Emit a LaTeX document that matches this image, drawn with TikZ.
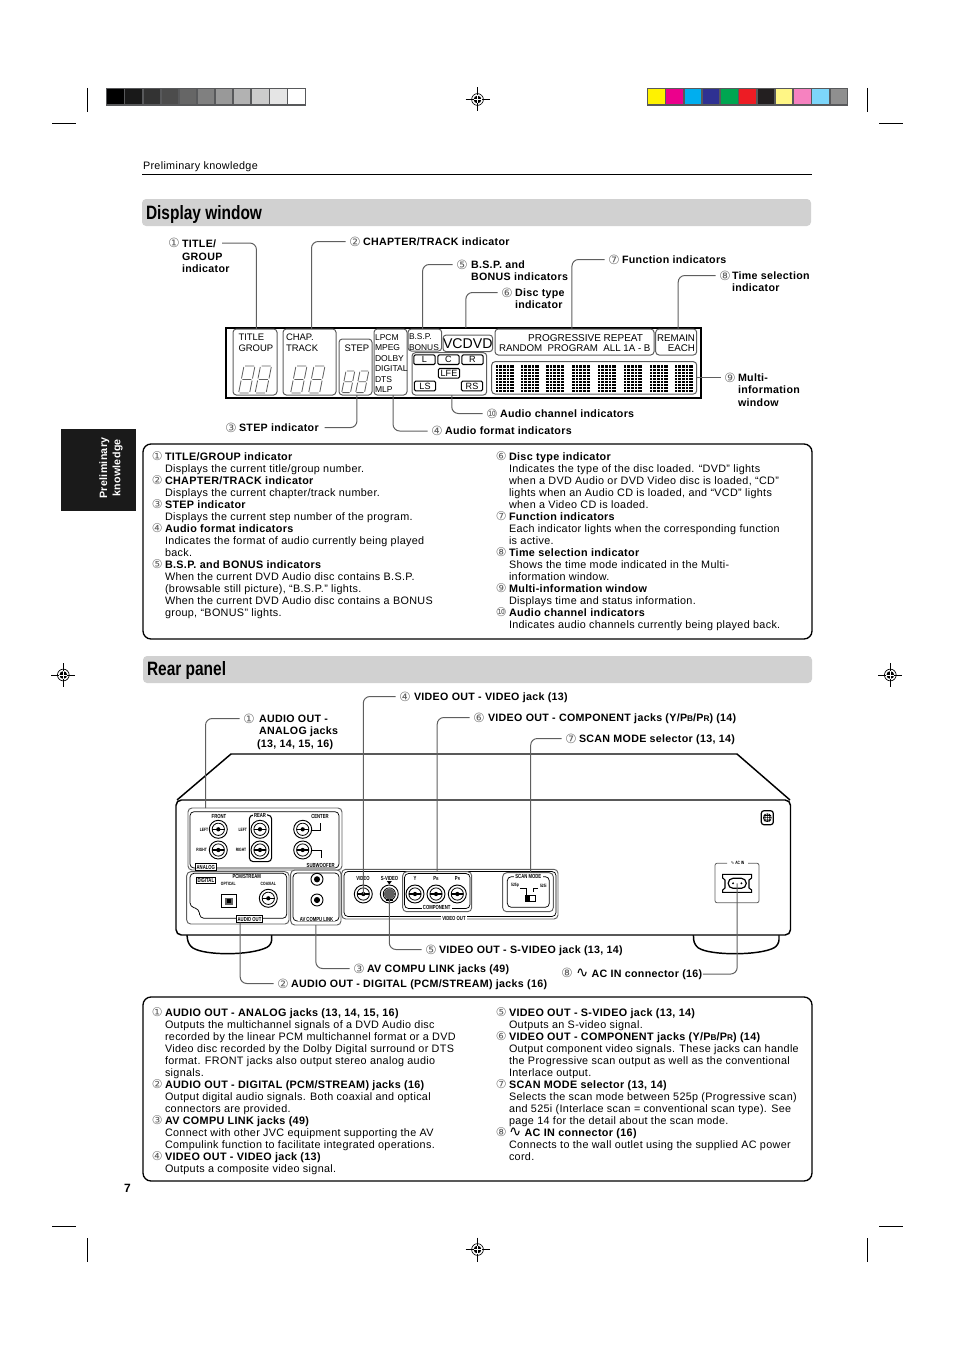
\documentclass[tikz,border=0pt]{standalone}
\usepackage{fontspec}
\setmainfont[LetterSpace=3]{Liberation Sans}
\newfontfamily\lcdfont{Liberation Sans}
\newfontfamily\symfont{DejaVu Sans}
\newfontfamily\headfont[FakeStretch=0.8]{Liberation Sans}
\newfontfamily\tinyfont[FakeStretch=0.72]{Liberation Sans}
\usetikzlibrary{arrows.meta, positioning, fit, calc}
\definecolor{leadgray}{RGB}{95,95,95}
\definecolor{bandgray}{RGB}{209,209,209}
\definecolor{lcdgray}{RGB}{95,95,95}
\definecolor{framegray}{RGB}{88,89,91}
\definecolor{tabblack}{RGB}{26,26,26}
\newcommand{\paneltitle}[2]{\makebox[0pt][r]{\symfont\fontsize{9}{9}\selectfont\color{leadgray}#1\hspace{1.8pt}}\textbf{#2}\\}
\newcommand{\lowcap}[1]{{\fontsize{6.2}{7}\selectfont #1}}
\newcommand{\tinysub}[1]{{\fontsize{3.2}{3}\selectfont #1}}
\newcommand{\sinewave}{{\symfont\mdseries\fontsize{11}{9}\selectfont\char"223F}}
\newcommand{\lcddigit}[3]{%
  \begin{scope}[shift={(#1,#2)},xslant=0.2,yscale=#3,xscale=#3]
    \draw[segment] (1,0)--(10,0) (11,1)--(11,12.5) (1,13.5)--(10,13.5)
      (11,14.5)--(11,26) (1,27)--(10,27) (0,14.5)--(0,26) (0,1)--(0,12.5);
  \end{scope}}

\begin{document}
\begin{tikzpicture}[
    x=0.75pt, y=-0.75pt,
    every node/.style={inner sep=0pt, outer sep=0pt},
    cropline/.style={black, line width=0.8pt},
    band/.style={fill=bandgray, rounded corners=3pt},
    bandtitle/.style={anchor=west, font=\headfont\bfseries\fontsize{14.5}{16}\selectfont},
    panel/.style={draw=black, line width=1pt, rounded corners=6pt},
    paneltext/.style={anchor=north west, align=left, font=\fontsize{8.1}{9}\selectfont},
    callout/.style={anchor=north west, align=left, yshift=-0.5pt, font=\bfseries\fontsize{8}{9.4}\selectfont},
    num/.style={font=\symfont\fontsize{9.5}{9}\selectfont, text=leadgray, inner sep=2.8pt},
    leader/.style={draw=leadgray, line width=0.75pt, rounded corners=5pt},
    lcdbox/.style={draw=lcdgray, line width=0.75pt, rounded corners=2.5pt, inner sep=0pt},
    lcdtext/.style={anchor=west, font=\lcdfont\fontsize{7.3}{8}\selectfont},
    chanbox/.style={draw=black, line width=0.8pt, rounded corners=1pt, minimum height=7.2pt,
                    minimum width=16pt, font=\lcdfont\fontsize{6.8}{8}\selectfont},
    segment/.style={draw=lcdgray, line width=0.6pt},
    chassis/.style={draw=black, line width=1.1pt, rounded corners=4pt},
    grayframe/.style={draw=lcdgray, line width=0.7pt, rounded corners=3pt, inner sep=0pt},
    blackframe/.style={draw=black, line width=0.55pt, rounded corners=3pt, inner sep=0pt},
    jack/.style={circle, draw=black, line width=0.7pt, minimum size=13.5pt},
    tinytext/.style={font=\tinyfont\bfseries\fontsize{4.4}{5}\selectfont},
    tinier/.style={font=\tinyfont\bfseries\fontsize{3.5}{5}\selectfont},
    tagbox/.style={draw=black, line width=0.55pt, fill=white, inner sep=0.9pt,
                   font=\tinyfont\bfseries\fontsize{4.4}{5}\selectfont},
  ]
  \useasboundingbox (0,0) rectangle (954,1352);

  % Print marks
  \draw[cropline] (87.3,88)--(87.3,112) (867.3,88)--(867.3,112)
    (87.3,1238)--(87.3,1262) (867.3,1238)--(867.3,1262)
    (52,123.3)--(76,123.3) (879,123.3)--(903,123.3)
    (52,1226.5)--(76,1226.5) (879,1226.5)--(903,1226.5);
  \fill[framegray] (106,88) rectangle (306,105.7);
  \foreach \i/\shade in {0/0,1/10,2/20,3/30,4/40,5/50,6/60,7/70,8/80,9/90,10/100} {
    \fill[white!\shade!black] (107.3+18.1*\i,89.3) rectangle (123.7+18.1*\i,104.4);
  }
  \fill[framegray] (646.7,88) rectangle (848.3,105.7);
  \foreach \i/\tone in {0/FFF200,1/EC008C,2/00AEEF,3/2E3192,4/00A651,5/ED1C24,6/231F20,7/FFF685,8/F682C0,9/7DD6FA,10/8F8F8F} {
    \definecolor{swatch}{HTML}{\tone}
    \fill[swatch] (648+18.25*\i,89.3) rectangle (664.5+18.25*\i,104.4);
  }
  \foreach \rx/\ry in {477.5/99.5,63.3/675,890.3/675,477.5/1249.5} {
    \draw[black, line width=0.35pt] (\rx-12,\ry)--(\rx+12,\ry) (\rx,\ry-12)--(\rx,\ry+12);
    \draw[black, line width=0.5pt] (\rx,\ry) circle (4.4pt);
    \fill[black] (\rx,\ry) circle (2.9pt);
    \draw[white, line width=0.4pt] (\rx-4,\ry)--(\rx+4,\ry) (\rx,\ry-4)--(\rx,\ry+4);
  }

  % Page head, side tab, folio
  \node[anchor=west, font=\fontsize{8.1}{9}\selectfont] (runhead) at (143,167) {Preliminary knowledge};
  \draw[black, line width=0.7pt] (142,174.5)--(812,174.5);
  \fill[tabblack] (61,429) rectangle (136,511);
  \node[rotate=90, align=center, text=white, font=\bfseries\fontsize{8}{9.8}\selectfont] (sidetab) at (111,468) {Preliminary\\knowledge};
  \node[font=\bfseries\fontsize{9}{10}\selectfont] (folio) at (127.5,1188) {7};

  % Display window heading
  \fill[band] (142,199) rectangle (811,226);
  \node[bandtitle] (displayhead) at (146,215) {Display window};

  % LCD frame and indicator groups
  \node[draw=black, line width=1.3pt, fit={(226,328)(701,398)}] (lcd) {};
  \node[lcdbox, fit={(233,329)(277,395)}] (titlebox) {};
  \node[lcdbox, fit={(283,329)(336,395)}] (chapbox) {};
  \node[lcdbox, fit={(339,339)(372,395)}] (stepbox) {};
  \node[lcdbox, fit={(374,329)(407,395)}] (formatbox) {};
  \node[lcdbox, fit={(408,329)(441.7,351)}] (bspbox) {};
  \node[lcdbox, fit={(443,335)(492.7,351.7)}] (discbox) {};
  \node[lcdbox, fit={(412,352.7)(486.7,395)}] (channelbox) {};
  \node[lcdbox, fit={(495,329)(654,355)}] (funcbox) {};
  \node[lcdbox, fit={(655.7,329)(696.7,355)}] (timebox) {};
  \node[lcdbox, fit={(491.7,361.7)(696.7,394)}] (multibox) {};

  % LCD texts
  \node[lcdtext, align=left, anchor=north west, font=\lcdfont\fontsize{7.1}{8.1}\selectfont] (titletext) at (238.5,334) {TITLE\\GROUP};
  \node[lcdtext, align=left, anchor=north west, font=\lcdfont\fontsize{7.1}{8.1}\selectfont] (chaptext) at (286,334) {CHAP.\\TRACK};
  \node[lcdtext, font=\lcdfont\fontsize{7.1}{8}\selectfont] (steptext) at (344.5,348.3) {STEP};
  \node[lcdtext, align=left, anchor=north west, font=\lcdfont\fontsize{6.4}{7.85}\selectfont] (formattext) at (375,334.5) {LPCM\\MPEG\\DOLBY\\DIGITAL\\DTS\\MLP};
  \node[lcdtext, align=left, anchor=north west, font=\lcdfont\fontsize{6.3}{7.9}\selectfont] (bsptext) at (409,333.8) {B.S.P.\\BONUS};
  \node[font=\lcdfont\fontsize{10.6}{11}\selectfont] (disctext) at (467.8,343.3) {VCDVD};
  \node[lcdtext, anchor=east, font=\lcdfont\fontsize{7.5}{8}\selectfont] (progtext) at (643,338) {PROGRESSIVE REPEAT};
  \node[lcdtext, anchor=east] (randtext) at (650.5,348.5) {RANDOM\ \ PROGRAM\ \ ALL 1A - B};
  \node[lcdtext, anchor=east] (remaintext) at (695,338) {REMAIN};
  \node[lcdtext, anchor=east] (eachtext) at (695,348.5) {EACH};
  \foreach \chan/\x/\y/\chantext in {chl/424.5/359.7/L,chc/448.5/359.7/C,chr/472.5/359.7/R,chlfe/449/373.3/LFE,chls/425/386/LS,chrs/472/386/RS} {
    \node[chanbox] (\chan) at (\x,\y) {\chantext};
  }

  % LCD digits
  \lcddigit{244}{366}{1}
  \lcddigit{260.5}{366}{1}
  \lcddigit{296}{366}{1}
  \lcddigit{314}{366}{1}
  \lcddigit{346}{371}{0.8}
  \lcddigit{360}{371}{0.8}

  % Multi-information dot blocks
  \foreach \bx in {495.5,520.5,546,572,597.5,623.5,649.5,674.5} {
    \fill[black] (\bx,365) rectangle (\bx+18,391.7);
    \foreach \gx in {3,6.6,10.2,13.8} {\draw[white, line width=0.3pt] (\bx+\gx,365)--(\bx+\gx,391.7);}
    \foreach \gy in {3,6,9,12,15,18,21,24} {\draw[white, line width=0.3pt] (\bx,365+\gy)--(\bx+18,365+\gy);}
  }

  % Display window callouts
  \node[num] (numa) at (174,243) {①};
  \node[callout] (lbla) at (182,239.3) {TITLE/\\GROUP\\indicator};
  \coordinate (lblaend) at (222,243);
  \node[num] (numb) at (355,241.5) {②};
  \node[callout] (lblb) at (363,237) {CHAPTER/TRACK indicator};
  \node[num] (nume) at (462,264.5) {⑤};
  \node[callout] (lble) at (471,260) {B.S.P. and\\BONUS indicators};
  \node[num] (numf) at (507,292.5) {⑥};
  \node[callout] (lblf) at (515,288) {Disc type\\indicator};
  \node[num] (numg) at (614,259.5) {⑦};
  \node[callout] (lblg) at (622,255) {Function indicators};
  \node[num] (numh) at (725,275.5) {⑧};
  \node[callout] (lblh) at (732,271) {Time selection\\indicator};
  \node[num] (numi) at (730,377.5) {⑨};
  \node[callout] (lbli) at (738,373) {Multi-\\information\\window};
  \node[num] (numj) at (492,413.5) {⑩};
  \node[callout] (lblj) at (500,409) {Audio channel indicators};
  \node[num] (numc) at (231,427.5) {③};
  \node[callout] (lblc) at (239,423) {STEP indicator};
  \node[num] (numd) at (437,431) {④};
  \node[callout] (lbld) at (445,426.5) {Audio format indicators};

  % Display window leaders
  \draw[leader] (lblaend) -| ([xshift=1.1pt]titlebox.north);
  \draw[leader] (numb.west) -| ([xshift=1.5pt]chapbox.north);
  \draw[leader] (nume.west) -| ([xshift=-1.7pt]bspbox.north);
  \draw[leader] (numf.west) -| ($(discbox.north)+(-2,-7)$);
  \draw[leader] (numg.west) -| ([xshift=-1.9pt]funcbox.north);
  \draw[leader] (numh.west) -| ([xshift=1.5pt]timebox.north);
  \draw[leader] (multibox.east |- numi) -- (numi.west);
  \draw[leader] ([xshift=1.8pt]channelbox.south) |- (numj.west);
  \draw[leader] ([xshift=1.9pt]formatbox.south) |- (numd.west);
  \draw[leader] ([xshift=1.1pt]stepbox.south) |- ([xshift=4.5pt]lblc.east);

  % Display window legend
  \draw[panel] (143,444) rectangle (812,639);
  \node[paneltext] (displayleft) at (165,452) {%
    \paneltitle{①}{TITLE/GROUP indicator}
    Displays the current title/group number.\\
    \paneltitle{②}{CHAPTER/TRACK indicator}
    Displays the current chapter/track number.\\
    \paneltitle{③}{STEP indicator}
    Displays the current step number of the program.\\
    \paneltitle{④}{Audio format indicators}
    Indicates the format of audio currently being played\\
    back.\\
    \paneltitle{⑤}{B.S.P. and BONUS indicators}
    When the current DVD Audio disc contains B.S.P.\\
    (browsable still picture), “B.S.P.” lights.\\
    When the current DVD Audio disc contains a BONUS\\
    group, “BONUS” lights.};
  \node[paneltext] (displayright) at (509,452) {%
    \paneltitle{⑥}{Disc type indicator}
    Indicates the type of the disc loaded. “DVD” lights\\
    when a DVD Audio or DVD Video disc is loaded, “CD”\\
    lights when an Audio CD is loaded, and “VCD” lights\\
    when a Video CD is loaded.\\
    \paneltitle{⑦}{Function indicators}
    Each indicator lights when the corresponding function\\
    is active.\\
    \paneltitle{⑧}{Time selection indicator}
    Shows the time mode indicated in the Multi-\\
    information window.\\
    \paneltitle{⑨}{Multi-information window}
    Displays time and status information.\\
    \paneltitle{⑩}{Audio channel indicators}
    Indicates audio channels currently being played back.};

  % Rear panel heading
  \fill[band] (143,656) rectangle (812,683);
  \node[bandtitle] (rearhead) at (147,670.5) {Rear panel};

  % Chassis and feet
  \draw[chassis] (186.7,933)--(188.3,945) .. controls (205,955.7) and (250,955.7) .. (271.7,945)--(271.7,933);
  \draw[chassis] (693.3,933)--(694,945) .. controls (710,955.7) and (760,955.7) .. (779,945)--(779,933);
  \draw[chassis, fill=white] (176,800) rectangle (790.5,935);
  \draw[chassis, rounded corners=0pt] (177,800)--(231,754)--(737,754)--(790,800);

  % Connector groups on the back
  \node[grayframe, fit={(188,808)(342,870)}] (analogbox) {};
  \node[blackframe, fit={(190,811.7)(339,868)}] (analoginner) {};
  \node[grayframe, fit={(186.7,871.7)(289,924)}] (digitalbox) {};
  \draw[blackframe] (190,873.3)--(190,906.7)--(199,909)--(200,918.3)--(286.7,918.3)--(286.7,873.3)--cycle;
  \node[grayframe, fit={(290.7,870)(341,925)}] (avbox) {};
  \node[blackframe, fit={(293,873)(339,921)}] (avinner) {};
  \node[grayframe, fit={(341.7,869.3)(558,919)}] (videobox) {};
  \node[blackframe, fit={(344,871.5)(556,916.5)}] (videoinner) {};
  \node[grayframe, fit={(402.7,871.7)(471.7,911.7)}] (componentbox) {};
  \node[blackframe, fit={(404.5,873.5)(470,908.5)}] (componentinner) {};
  \node[grayframe, fit={(502.7,872.7)(553.3,911.7)}] (scanbox) {};
  \node[blackframe, fit={(507.3,876.7)(549.3,907.3)}] (scaninner) {};
  \node[blackframe, line width=0.8pt, fit={(249.3,815)(271.7,861.7)}] (rearbox) {};

  % Jacks
  \foreach \jackname/\x/\y in {frontl/218.3/829.3,frontr/218.3/850,rearl/260/829.3,rearr/260/850,
      center/302.7/829.3,subwoofer/302.7/850,coaxial/268.3/898.3,videojack/363.3/894,
      svideojack/389.3/894,yjack/415/894,pbjack/436/894,prjack/457.3/894} {
    \node[jack] (\jackname) at (\x,\y) {};
    \draw[black, line width=0.6pt] (\jackname.center) circle (4.6pt);
    \draw[black, line width=0.8pt] (\x-6,\y)--(\x+6,\y);
    \fill[black] (\jackname.center) circle (1.6pt);
  }
  \fill[lcdgray] (svideojack.center) circle (4.2pt);
  \fill[black] (386,899) rectangle (392.6,901);
  \foreach \avname/\y in {compua/879.3,compub/900} {
    \node[circle, draw=black, line width=0.7pt, minimum size=9pt] (\avname) at (317,\y) {};
    \fill[black] (\avname.center) circle (2.3pt);
  }
  \node[draw=black, line width=0.8pt, minimum width=11pt, minimum height=9.5pt] (optical) at (229,901) {};
  \fill[lcdgray] (225,897.5) rectangle (233,904.5);
  \fill[black] (227,899) rectangle (231,903);

  % Small marks on the back
  \draw[black, line width=0.6pt] (320,823)--(320,830)--(311.5,830) (311.5,850)--(321.5,850)--(321.5,858);
  \draw[black, line width=0.6pt] (520,888)--(526.7,888)--(526.7,896) (538,888)--(533.5,888)--(533.5,892);
  \node[draw=black, line width=0.6pt, minimum width=7.2pt, minimum height=4.5pt, fill=white] (scanswitch) at (530.4,898) {};
  \fill[black] (526,895.5) rectangle (530.4,900.5);
  \fill[black] (389.3,884.5)--(386.8,881)--(391.8,881)--cycle;

  % Tags on the back
  \foreach \tagname/\x/\y/\tagtext in {tfront/219/816.7/FRONT,tcenter/320/816.7/CENTER,tsub/320.7/865/SUBWOOFER,
      tvideo/363/878/VIDEO,tsvideo/389.5/878/S-VIDEO,ty/415/878/Y,tpb/436/878/{P\tinysub{B}},tpr/457.5/878/{P\tinysub{R}}} {
    \node[tinytext] (\tagname) at (\x,\y) {\tagtext};
  }
  \foreach \tagname/\x/\y/\tagtext in {tleftone/204/830/LEFT,trightone/201.7/850/RIGHT,tlefttwo/242.7/830/LEFT,
      trighttwo/241/850/RIGHT,toptical/228.3/884/OPTICAL,tcoax/268.3/884/COAXIAL,tfivep/515/885.7/525p,tfivei/543.3/885.7/525i} {
    \node[tinier] (\tagname) at (\x,\y) {\tagtext};
  }
  \node[tinytext] (tpcm) at (246.7,876.7) {PCM/STREAM};
  \foreach \tagname/\x/\y/\tagtext in {trear/260/815/REAR,tav/316.5/919/AV COMPU LINK,tvideoout/454/918/VIDEO OUT,
      tcomponent/436.7/907.5/COMPONENT,tscan/528.3/876.7/SCAN MODE} {
    \node[tinytext, fill=white, inner xsep=1pt] (\tagname) at (\x,\y) {\tagtext};
  }
  \node[tagbox] (tanalog) at (205.8,867) {ANALOG};
  \node[tagbox] (tdigital) at (205.8,880.5) {DIGITAL};
  \node[tagbox] (taudioout) at (249.5,919) {AUDIO OUT};

  % AC inlet and grid mark
  \draw[lcdgray, line width=0.6pt, rounded corners=1.5pt] (727,863.3)--(715,863.3)--(715,902.7)--(759,902.7)--(759,863.3)--(748,863.3);
  \node[tinier] (tacin) at (737.5,863.3) {{\symfont\mdseries\char"223F}\,AC IN};
  \draw[black, line width=0.8pt] (722.7,874.3)--(751.7,874.3)--(751.7,878)--(749,880)--(749,888)--(751.7,890)--(751.7,892.3)--(722.7,892.3)--(722.7,890)--(725,888)--(725,880)--(722.7,878)--cycle;
  \node[draw=black, line width=0.9pt, rounded corners=3.6pt, minimum width=13.5pt, minimum height=7.5pt] (inlet) at (737.2,883.3) {};
  \fill[black] (733,883.3) circle (0.8pt) (741.4,883.3) circle (0.8pt);
  \node[draw=black, line width=0.9pt, rounded corners=2pt, minimum width=9pt, minimum height=10.5pt] (gridmark) at (767.3,817.7) {};
  \draw[black, line width=0.4pt] (gridmark.center) circle (3pt) (763.3,817.7)--(771.3,817.7) (767.3,813.7)--(767.3,821.7)
     (763.6,815.5)--(771,815.5) (763.6,820)--(771,820) (765,813.9)--(765,821.5) (769.6,813.9)--(769.6,821.5);

  % Rear panel callouts
  \node[num] (reard) at (405,696.5) {④};
  \node[callout] (rearlbld) at (414,692) {VIDEO OUT - VIDEO jack (13)};
  \node[num] (reara) at (249,718.5) {①};
  \node[callout] (rearlbla) at (259,714) {AUDIO OUT -\\ANALOG jacks\\\hspace*{-1.5pt}(13, 14, 15, 16)};
  \node[num] (rearf) at (479,717.5) {⑥};
  \node[callout] (rearlblf) at (488,713) {VIDEO OUT - COMPONENT jacks (Y/P\lowcap{B}/P\lowcap{R}) (14)};
  \node[num] (rearg) at (571,738.5) {⑦};
  \node[callout] (rearlblg) at (579,734) {SCAN MODE selector (13, 14)};
  \node[num] (reare) at (431,949.5) {⑤};
  \node[callout] (rearlble) at (439,945) {VIDEO OUT - S-VIDEO jack (13, 14)};
  \node[num] (rearc) at (359,968.5) {③};
  \node[callout] (rearlblc) at (367,964) {AV COMPU LINK jacks (49)};
  \node[num] (rearb) at (283,983.5) {②};
  \node[callout] (rearlblb) at (291,979) {AUDIO OUT - DIGITAL (PCM/STREAM) jacks (16)};
  \node[num] (rearh) at (567,972.5) {⑧};
  \node[callout] (rearlblh) at (576,968) {\sinewave\ AC IN connector (16)};

  % Rear panel leaders
  \draw[leader] (reard.west) -| (videojack.center);
  \draw[leader] (reara.west) -| ([xshift=-44.6pt]analogbox.north);
  \draw[leader] (rearf.west) -| (componentbox.north);
  \draw[leader] (rearg.west) -| ([xshift=2pt]scanbox.north);
  \draw[leader] (svideojack.center) |- (reare.west);
  \draw[leader] (avbox.south) |- (rearc.west);
  \draw[leader] ([xshift=-7pt]taudioout.south) |- (rearb.west);
  \draw[leader] (inlet.center) |- ([xshift=0.5pt]rearlblh.east);

  % Rear panel legend
  \draw[panel] (143,997) rectangle (812,1181);
  \node[paneltext] (rearleft) at (165,1008) {%
    \paneltitle{①}{AUDIO OUT - ANALOG jacks (13, 14, 15, 16)}
    Outputs the multichannel signals of a DVD Audio disc\\
    recorded by the linear PCM multichannel format or a DVD\\
    Video disc recorded by the Dolby Digital surround or DTS\\
    format. FRONT jacks also output stereo analog audio\\
    signals.\\
    \paneltitle{②}{AUDIO OUT - DIGITAL (PCM/STREAM) jacks (16)}
    Output digital audio signals. Both coaxial and optical\\
    connectors are provided.\\
    \paneltitle{③}{AV COMPU LINK jacks (49)}
    Connect with other JVC equipment supporting the AV\\
    Compulink function to facilitate integrated operations.\\
    \paneltitle{④}{VIDEO OUT - VIDEO jack (13)}
    Outputs a composite video signal.};
  \node[paneltext] (rearright) at (509,1008) {%
    \paneltitle{⑤}{VIDEO OUT - S-VIDEO jack (13, 14)}
    Outputs an S-video signal.\\
    \paneltitle{⑥}{VIDEO OUT - COMPONENT jacks (Y/P\lowcap{B}/P\lowcap{R}) (14)}
    Output component video signals. These jacks can handle\\
    the Progressive scan output as well as the conventional\\
    Interlace output.\\
    \paneltitle{⑦}{SCAN MODE selector (13, 14)}
    Selects the scan mode between 525p (Progressive scan)\\
    and 525i (Interlace scan = conventional scan type). See\\
    page 14 for the detail about the scan mode.\\
    \paneltitle{⑧}{\sinewave\ AC IN connector (16)}
    Connects to the wall outlet using the supplied AC power\\
    cord.};
\end{tikzpicture}
\end{document}
